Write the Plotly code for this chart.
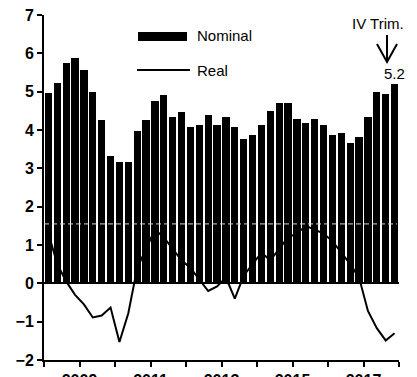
import plotly.graph_objects as go

# ---- data ----
years = list(range(2008, 2018))
quarters = [1, 2, 3, 4]
nominal = [4.97, 5.23, 5.75, 5.88, 5.56, 4.99, 4.25, 3.33, 3.17, 3.17,
           3.97, 4.27, 4.75, 4.91, 4.33, 4.47, 4.07, 4.12, 4.39, 4.12,
           4.34, 4.07, 3.76, 3.86, 4.12, 4.49, 4.71, 4.71, 4.30, 4.19,
           4.30, 4.14, 3.88, 3.92, 3.67, 3.82, 4.33, 4.99, 4.93, 5.2]
real = [1.3, 0.5, 0.05, -0.3, -0.55, -0.89, -0.84, -0.63, -1.53, -0.78,
        0.4, 0.9, 1.4, 1.2, 0.9, 0.6, 0.4, 0.1, -0.2, -0.08,
        0.15, -0.4, 0.2, 0.5, 0.8, 0.6, 0.9, 1.2, 1.3, 1.5,
        1.4, 1.3, 1.1, 0.8, 0.5, 0.15, -0.72, -1.17, -1.49, -1.3]
tick_years = list(range(2008, 2019))
tick_text = ["", "2009", "", "2011", "", "2013", "", "2015", "", "2017", ""]
ref_level = 1.55
series_names = ["Nominal", "Real"]
last_label = "IV Trim."

x = [y + (q - 0.5) / 4 for y in years for q in quarters]

# page geometry (browser adds an 8px body margin)
OFF = 8
PW, PH = 417, 377
L, R, T, B = 44, 399, 15, 360   # plot area in page pixels
W, H = PW - OFF, PH - OFF


def px(v):
    return (v - L) / (R - L)


def py(v):
    return (B - v) / (B - T)


fig = go.Figure()
fig.add_trace(go.Bar(x=x, y=nominal, width=0.205, marker=dict(color="black", line=dict(width=0)),
                     name=series_names[0]))
fig.add_trace(go.Scatter(x=x, y=real, mode="lines", line=dict(color="black", width=2),
                         name=series_names[1]))

font_b = dict(family="Liberation Sans, Arial", size=16, color="black", weight="bold")
font_r = dict(family="Liberation Sans, Arial", size=15, color="black")

fig.update_layout(
    width=W, height=H,
    margin=dict(l=L - OFF, r=PW - R, t=T - OFF, b=PH - B, pad=0),
    paper_bgcolor="white", plot_bgcolor="white",
    showlegend=False,
    bargap=0,
    xaxis=dict(range=[2008, 2018], tickvals=tick_years, ticktext=tick_text,
               ticks="outside", ticklen=5, tickwidth=2, tickcolor="black",
               showline=True, linecolor="black", linewidth=2,
               showgrid=False, zeroline=False, tickfont=font_b, automargin=False,
               ticklabeloverflow="allow"),
    yaxis=dict(range=[-2, 7], dtick=1, tick0=0,
               ticks="outside", ticklen=5, tickwidth=2, tickcolor="black",
               showline=True, linecolor="black", linewidth=2,
               showgrid=False, zeroline=True, zerolinecolor="black", zerolinewidth=2,
               tickfont=font_b, automargin=False, ticklabeloverflow="allow"),
)

shapes = [
    # faint dashed reference line
    dict(type="line", xref="paper", yref="y", x0=0, x1=px(397), y0=ref_level, y1=ref_level,
         line=dict(color="#d8d8d8", width=1, dash="5px,3px"), layer="above"),
    # legend swatches
    dict(type="rect", xref="paper", yref="paper", x0=px(138), x1=px(187), y0=py(41), y1=py(32),
         fillcolor="black", line=dict(width=0)),
    dict(type="line", xref="paper", yref="paper", x0=px(137), x1=px(190), y0=py(70), y1=py(70),
         line=dict(color="black", width=2)),
    # arrow
    dict(type="path", xref="paper", yref="paper",
         path=f"M {px(387)} {py(35)} L {px(387)} {py(62)} M {px(377)} {py(44)} L {px(387)} {py(62)} L {px(397)} {py(44)}",
         line=dict(color="black", width=2)),
]
fig.update_layout(shapes=shapes)

annotations = [
    dict(xref="paper", yref="paper", x=px(195), y=py(36), text=series_names[0], showarrow=False,
         xanchor="left", yanchor="middle", font=font_r),
    dict(xref="paper", yref="paper", x=px(195), y=py(70), text=series_names[1], showarrow=False,
         xanchor="left", yanchor="middle", font=font_r),
    dict(xref="paper", yref="paper", x=px(378), y=py(24), text=last_label, showarrow=False,
         xanchor="center", yanchor="middle", font=font_r),
    dict(xref="x", yref="y", x=x[-1], y=nominal[-1], text=f"{nominal[-1]}", showarrow=False,
         xanchor="center", yanchor="bottom", yshift=0, font=font_r),
]
fig.update_layout(annotations=annotations)

fig.write_html("out.html")
